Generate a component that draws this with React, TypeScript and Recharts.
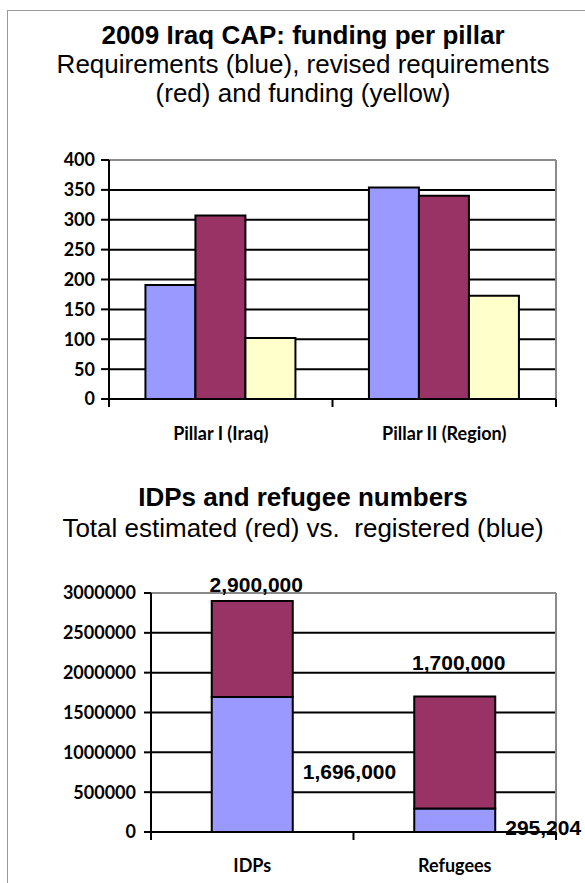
import React from "react";
import { BarChart, Bar, XAxis, YAxis, CartesianGrid, ReferenceLine, LabelList } from "recharts";

// chart 1: funding per pillar (US$ million)
const pillars = ["Pillar I (Iraq)", "Pillar II (Region)"];
const requirements = [191, 354];
const revisedRequirements = [307, 340];
const funding = [102, 173];
const pillarTicks = [0, 50, 100, 150, 200, 250, 300, 350, 400];

// chart 2: displaced people
const groups = ["IDPs", "Refugees"];
const registered = [1696000, 295204];
const totalEstimated = [2900000, 1700000];
const populationTicks = [0, 500000, 1000000, 1500000, 2000000, 2500000, 3000000];

const pillarData = pillars.map((name, i) => ({
    name,
    requirements: requirements[i],
    revised: revisedRequirements[i],
    funding: funding[i],
}));

const populationData = groups.map((name, i) => ({
    name,
    registered: registered[i],
    unregistered: totalEstimated[i] - registered[i],
    total: totalEstimated[i],
}));

const BLUE = "#9999FF";
const RED = "#993366";
const YELLOW = "#FFFFCC";
const FRAME = "#8a8a8a";
const ARIAL = "'Liberation Sans', Arial, sans-serif";
const tickFont = { fontFamily: "Lato, 'Noto Sans', sans-serif", fontWeight: 700, fontSize: 18, fill: "#000" };

// tick marks sit on the category boundaries, label in the middle of the band
function CategoryTick(props: any) {
    const { x, y, payload, index, visibleTicksCount, width, labelDy } = props;
    const half = payload && payload.offset > 0 ? payload.offset : width / visibleTicksCount / 2;
    const last = index === visibleTicksCount - 1;
    return (
        <g>
            <line x1={x - half} x2={x - half} y1={y} y2={y + 8} stroke="#000" strokeWidth={2} />
            {last && <line x1={x + half} x2={x + half} y1={y} y2={y + 8} stroke="#000" strokeWidth={2} />}
            <text
                x={x}
                y={y + labelDy}
                textAnchor="middle"
                dominantBaseline="central"
                fontFamily={tickFont.fontFamily}
                fontWeight={700}
                fontSize={18}
                fill="#000"
            >
                {payload.value}
            </text>
        </g>
    );
}

const totalLift = [16, 34];

function TotalLabel(props: any) {
    const { x, y, width, value, index } = props;
    return (
        <text x={x + width / 2 + 4} y={y - totalLift[index]} textAnchor="middle" dominantBaseline="central"
            fontFamily={ARIAL} fontWeight={700} fontSize={21} fill="#000">
            {Number(value).toLocaleString("en-US")}
        </text>
    );
}

function RegisteredLabel(props: any) {
    const { x, y, width, height, value } = props;
    return (
        <text x={x + width + 10} y={y + height / 2 + 7} textAnchor="start" dominantBaseline="central"
            fontFamily={ARIAL} fontWeight={700} fontSize={21} fill="#000">
            {Number(value).toLocaleString("en-US")}
        </text>
    );
}

function Line({ top, height, bold, children }: any) {
    return (
        <div style={{
            position: "absolute", left: 0, top, width: 606, textAlign: "center", fontFamily: ARIAL, color: "#000",
            fontSize: 26, lineHeight: height + "px", fontWeight: bold ? 700 : 400, whiteSpace: "pre",
        }}>
            {children}
        </div>
    );
}

export default function App() {
    return (
        <div style={{ position: "absolute", left: 0, top: 0, width: 585, height: 883, overflow: "hidden", background: "#fff" }}>
            <div style={{ position: "absolute", left: 7, top: 10, width: 700, height: 1000, borderLeft: "1px solid #999", borderTop: "1px solid #999" }} />

            <Line top={22} height={26} bold>2009 Iraq CAP: funding per pillar</Line>
            <Line top={50} height={29}>{"Requirements (blue), revised requirements\n(red) and funding (yellow)"}</Line>

            <div style={{ position: "absolute", left: 0, top: 140 }}>
                <BarChart width={585} height={320} data={pillarData} margin={{ top: 20, right: 29, bottom: 11, left: 0 }}
                    barCategoryGap="16.3%" barGap={0}>
                    <CartesianGrid vertical={false} stroke="#000" strokeWidth={2} horizontalValues={pillarTicks.slice(1, -1)} />
                    <XAxis dataKey="name" interval={0} height={50} tickLine={false} tickSize={0} tickMargin={0}
                        axisLine={{ stroke: "#000", strokeWidth: 2 }} tick={<CategoryTick labelDy={34} />} />
                    <YAxis width={109} domain={[0, 400]} ticks={pillarTicks} interval={0} tickSize={8} tickMargin={6}
                        tickLine={{ stroke: "#000", strokeWidth: 2 }} axisLine={{ stroke: "#000", strokeWidth: 2 }} tick={tickFont} />
                    <ReferenceLine y={400} stroke={FRAME} strokeWidth={2} />
                    <ReferenceLine x={pillars[pillars.length - 1]} position="end" stroke={FRAME} strokeWidth={2} />
                    <Bar dataKey="requirements" fill={BLUE} stroke="#000" strokeWidth={2} isAnimationActive={false} />
                    <Bar dataKey="revised" fill={RED} stroke="#000" strokeWidth={2} isAnimationActive={false} />
                    <Bar dataKey="funding" fill={YELLOW} stroke="#000" strokeWidth={2} isAnimationActive={false} />
                </BarChart>
            </div>

            <Line top={484} height={26} bold>IDPs and refugee numbers</Line>
            <Line top={514} height={29}>{"Total estimated (red) vs.  registered (blue)"}</Line>

            <div style={{ position: "absolute", left: 0, top: 560 }}>
                <BarChart width={585} height={320} data={populationData} margin={{ top: 33, right: 29, bottom: 8, left: 0 }}
                    barCategoryGap="30%">
                    <CartesianGrid vertical={false} stroke="#000" strokeWidth={2} horizontalValues={populationTicks.slice(1, -1)} />
                    <XAxis dataKey="name" interval={0} height={40} tickLine={false} tickSize={0} tickMargin={0}
                        axisLine={{ stroke: "#000", strokeWidth: 2 }} tick={<CategoryTick labelDy={33} />} />
                    <YAxis width={151} domain={[0, 3000000]} ticks={populationTicks} interval={0} tickSize={7} tickMargin={8}
                        tickLine={{ stroke: "#000", strokeWidth: 2 }} axisLine={{ stroke: "#000", strokeWidth: 2 }} tick={tickFont} />
                    <ReferenceLine y={3000000} stroke={FRAME} strokeWidth={2} />
                    <ReferenceLine x={groups[groups.length - 1]} position="end" stroke={FRAME} strokeWidth={2} />
                    <Bar dataKey="registered" stackId="a" fill={BLUE} stroke="#000" strokeWidth={2} isAnimationActive={false}>
                        <LabelList dataKey="registered" content={<RegisteredLabel />} />
                    </Bar>
                    <Bar dataKey="unregistered" stackId="a" fill={RED} stroke="#000" strokeWidth={2} isAnimationActive={false}>
                        <LabelList dataKey="total" content={<TotalLabel />} />
                    </Bar>
                </BarChart>
            </div>
        </div>
    );
}
